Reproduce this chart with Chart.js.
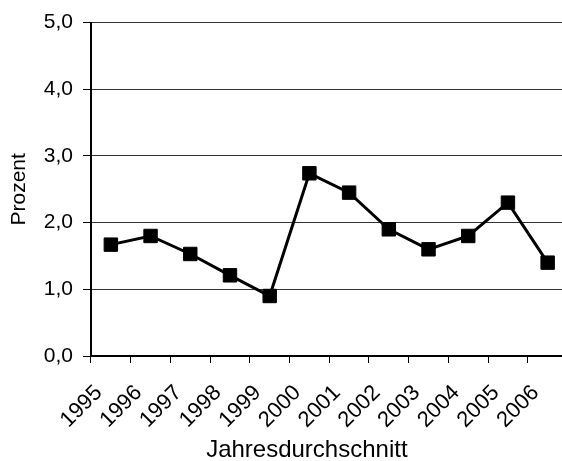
<!DOCTYPE html>
<html>
<head>
<meta charset="utf-8">
<script src="https://cdn.jsdelivr.net/npm/chart.js@4.4.1/dist/chart.umd.min.js"></script>
<style>
  html, body { margin: 0; padding: 0; background: #fff; overflow: hidden; }
  #wrap { width: 578px; height: 461px; }
</style>
</head>
<body>
<div id="wrap"><canvas id="chart" width="578" height="461"></canvas></div>
<script>
// Jahresdurchschnitt, Prozent
const years = ['1995', '1996', '1997', '1998', '1999', '2000', '2001', '2002', '2003', '2004', '2005', '2006'];
const prozent = [1.67, 1.80, 1.53, 1.21, 0.90, 2.74, 2.45, 1.90, 1.60, 1.80, 2.30, 1.40];
const yTicks = [0, 1, 2, 3, 4, 5];
const xTitle = 'Jahresdurchschnitt';
const yTitle = 'Prozent';

const font = 'Liberation Sans, Arial, sans-serif';

// x axis title sits a bit left of the plot centre, like in the original
const xTitlePlugin = {
  id: 'xTitle',
  afterDraw(chart) {
    const ctx = chart.ctx;
    const area = chart.chartArea;
    ctx.save();
    ctx.font = '24px ' + font;
    ctx.fillStyle = '#000';
    ctx.textAlign = 'center';
    ctx.textBaseline = 'alphabetic';
    ctx.fillText(xTitle, area.left + (area.right - area.left) * 0.453, chart.height - 4);
    ctx.restore();
  }
};

new Chart(document.getElementById('chart').getContext('2d'), {
  type: 'line',
  data: {
    labels: years,
    datasets: [{
      data: prozent,
      borderColor: '#000',
      borderWidth: 3,
      backgroundColor: '#000',
      pointStyle: 'rect',
      pointRadius: 9.5,
      pointBorderWidth: 1,
      pointBorderColor: '#000',
      pointBackgroundColor: '#000',
      tension: 0,
      fill: false
    }]
  },
  options: {
    responsive: false,
    animation: false,
    devicePixelRatio: 1,
    layout: { padding: { top: 22, right: 4, left: 0, bottom: 0 } },
    plugins: {
      legend: { display: false },
      tooltip: { enabled: false }
    },
    scales: {
      x: {
        type: 'category',
        offset: true,
        afterFit: (s) => {
          s.height = 105;
          s.paddingLeft = 0;
          s.paddingRight = 0;
        },
        grid: {
          offset: true,
          drawOnChartArea: false,
          drawTicks: true,
          tickLength: 7,
          tickColor: '#000',
          tickWidth: 1
        },
        border: { color: '#000', width: 2 },
        ticks: {
          autoSkip: false,
          minRotation: 45,
          maxRotation: 45,
          labelOffset: -12,
          padding: 17,
          color: '#000',
          font: { family: font, size: 22 }
        }
      },
      y: {
        min: 0,
        max: 5,
        afterFit: (s) => { s.width = 91; },
        afterBuildTicks: (s) => { s.ticks = yTicks.map(v => ({ value: v })); },
        grid: {
          color: '#333',
          lineWidth: 1,
          drawTicks: true,
          tickLength: 8,
          tickColor: '#000'
        },
        border: { color: '#000', width: 2 },
        ticks: {
          padding: 10,
          color: '#000',
          font: { family: font, size: 21 },
          callback: (v) => Number(v).toFixed(1).replace('.', ',')
        },
        title: {
          display: true,
          text: yTitle,
          color: '#000',
          padding: { top: 7, bottom: 0 },
          font: { family: font, size: 21 }
        }
      }
    }
  },
  plugins: [xTitlePlugin]
});
</script>
</body>
</html>
